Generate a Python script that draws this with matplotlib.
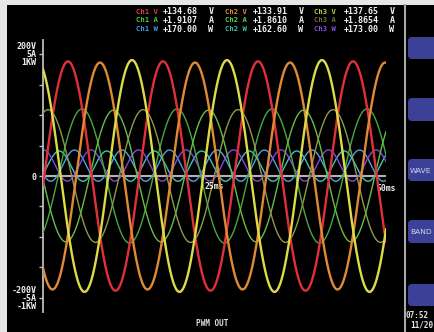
"""Pantalla del analizador de potencia: tensiones, corrientes y potencias de las 3 fases (PWM OUT)."""
import numpy as np
import matplotlib
matplotlib.use("Agg")
import matplotlib.pyplot as plt
from matplotlib.patches import FancyBboxPatch, Rectangle

W_PX, H_PX = 435, 332

# lecturas de la cabecera
channels = ["Ch1", "Ch2", "Ch3"]
volt_rms = [134.68, 133.91, 137.65]
amp_rms = [1.9107, 1.8610, 1.8654]
watt = [170.00, 162.60, 173.00]

period_ms = 13.85
volt_peak = [188, 186, 190]
volt_peak_t = [3.64, 8.31, 12.97]
amp_peak = [2.75, 2.70, 2.72]
amp_peak_t = [5.69, 10.28, 0.73]
watt_mean = [85, 81, 86]
watt_swing = [128, 124, 128]
watt_peak_t = [4.59, 9.29, 7.00]

# escala completa de cada magnitud
fs_volt, fs_amp, fs_watt = 200, 5, 1000
tick_pos = [-1, -0.75, -0.5, -0.25, 0, 0.25, 0.5, 0.75, 1]
tick_lab = ["-200V\n-5A\n-1KW", "", "", "", "0", "", "", "", "200V\n5A\n1KW"]

# botones del panel derecho (y sup, y inf en px) y sus textos
buttons = [(37, 59), (98, 121), (159, 181), (220, 243), (284, 306)]
button_text = ["", "", "WAVE", "BAND", ""]

volt_col = ["#e0303a", "#e08a36", "#dcdc48"]
amp_col = ["#48a842", "#6cbc48", "#8f9a4c"]
watt_col = ["#4aa3e6", "#3cc8b4", "#8a44e0"]
lab_col = {"V": ["#e23a3a", "#e0902c", "#c2ca40"],
           "A": ["#40c640", "#58d04e", "#6c6c42"],
           "W": ["#3c9ce2", "#34c8aa", "#8c4ce8"]}

MONO = "DejaVu Sans Mono"

fig = plt.figure(figsize=(W_PX / 100, H_PX / 100), dpi=100, facecolor="#e6e6e6")

# capa de fondo en píxeles (origen arriba a la izquierda)
bg = fig.add_axes([0, 0, 1, 1])
bg.set_xlim(0, W_PX)
bg.set_ylim(H_PX, 0)
bg.axis("off")
bg.add_patch(Rectangle((7, 5), W_PX, H_PX, facecolor="black", edgecolor="none"))

# separador y botones
bg.plot([405, 405], [5, H_PX], color="#a8a8a8", lw=1.5)
for (y0, y1), txt in zip(buttons, button_text):
    bg.add_patch(FancyBboxPatch((408, y0), 40, y1 - y0,
                 boxstyle="round,pad=0,rounding_size=4",
                 facecolor="#3c4096", edgecolor="none"))
    if txt:
        bg.text(410, (y0 + y1) / 2 + 1, txt, color="#d4d4e4", fontsize=5.4,
                family="DejaVu Sans", va="center", ha="left")
bg.text(406, 315, "07:52", color="#e8e8e8", fontsize=5.5, family=MONO,
        weight="bold", va="center")
bg.text(410, 325, "11/20", color="#e8e8e8", fontsize=5.5, family=MONO,
        weight="bold", va="center")

# cabecera con valores
rows = [("V", volt_rms, "{:+.2f}"), ("A", amp_rms, "{:+.4f}"), ("W", watt, "{:+.2f}")]
row_y = [11.5, 20.5, 29]
col_lab_x = [136, 225, 314]
col_val_x = [198, 288, 379]
col_unit_x = [211, 301, 392]
for (unit, vals, fmt), y in zip(rows, row_y):
    for k, ch in enumerate(channels):
        bg.text(col_lab_x[k], y, f"{ch} {unit}", color=lab_col[unit][k], fontsize=5.2,
                family=MONO, weight="bold", va="center", ha="left")
        bg.text(col_val_x[k], y, fmt.format(vals[k]), color="#f2f2f2", fontsize=6,
                family=MONO, weight="bold", va="center", ha="right")
        bg.text(col_unit_x[k], y, unit, color="#f2f2f2", fontsize=6,
                family=MONO, weight="bold", va="center", ha="center")

bg.text(212, 324, "PWM OUT", color="#e0e0e0", fontsize=5.5, family=MONO,
        weight="bold", va="center", ha="center")

# área de ondas: 0..50 ms, ±1 = escala completa
ax = fig.add_axes([43 / W_PX, (H_PX - 312) / H_PX, 343 / W_PX, 272 / H_PX])
ax.set_facecolor("none")
ax.set_xlim(0, 50)
ax.set_ylim(-1.1148, 1.1148)
for s in ("top", "right", "bottom"):
    ax.spines[s].set_visible(False)
ax.spines["left"].set_color("#bdbdbd")
ax.spines["left"].set_linewidth(1.3)
ax.set_xticks([])
ax.set_yticks(tick_pos, tick_lab)
ax.tick_params(axis="y", direction="out", length=3, width=1, color="#bdbdbd",
               pad=1.5, labelcolor="#f0f0f0", labelsize=6)
for lab in ax.get_yticklabels():
    lab.set_family(MONO)
    lab.set_weight("bold")
    lab.set_linespacing(0.85)
    lab.set_multialignment("right")

t = np.linspace(0, 50, 2500)
w = 2 * np.pi / period_ms
for k in range(3):
    p = (watt_mean[k] + watt_swing[k] * np.cos(2 * w * (t - watt_peak_t[k]))) / fs_watt
    ax.plot(t, p, color=watt_col[k], lw=1.0, zorder=2)
ax.axhline(0, color="#b8aeb4", lw=1.5, zorder=1.5)
for k in range(3):
    i = amp_peak[k] * np.cos(w * (t - amp_peak_t[k])) / fs_amp
    ax.plot(t, i, color=amp_col[k], lw=1.0, zorder=3)
for k in range(3):
    v = volt_peak[k] * np.cos(w * (t - volt_peak_t[k])) / fs_volt
    ax.plot(t, v, color=volt_col[k], lw=1.7, zorder=4)

ax.text(25, -0.05, "25ms", color="#f0f0f0", fontsize=5.8, family=MONO,
        weight="bold", ha="center", va="top", clip_on=False)
ax.text(50, -0.065, "50ms", color="#f0f0f0", fontsize=5.8, family=MONO,
        weight="bold", ha="center", va="top", clip_on=False)

fig.savefig("out.png", dpi=100, facecolor=fig.get_facecolor())
